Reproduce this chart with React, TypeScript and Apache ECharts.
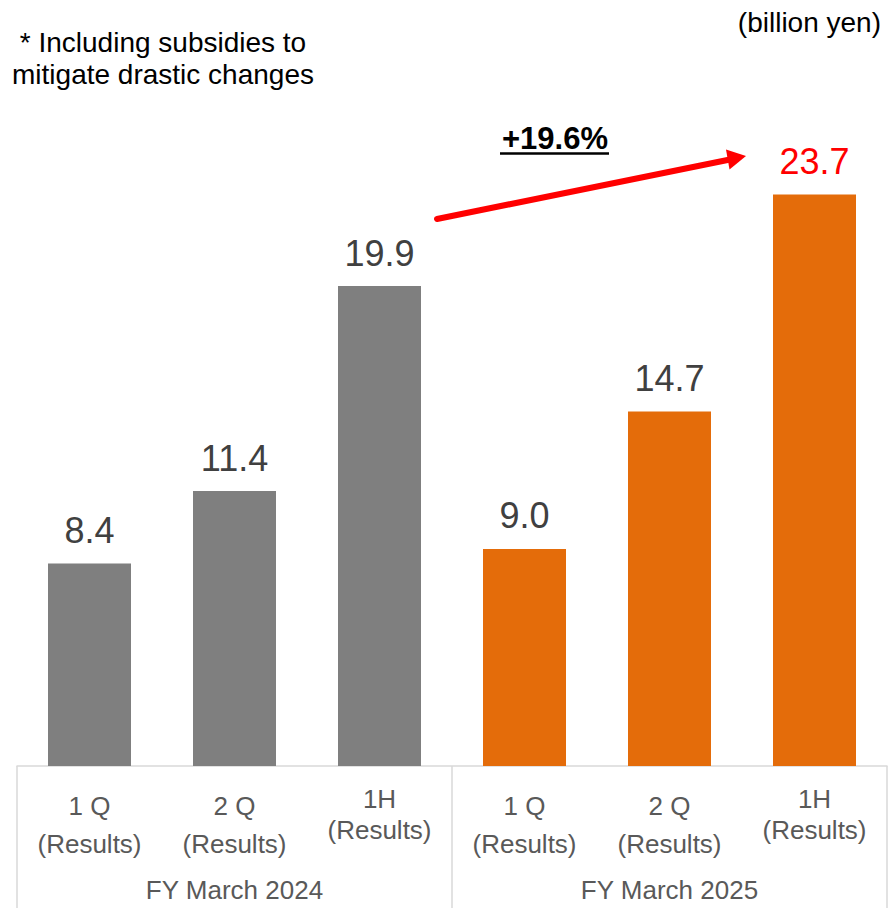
import React, { useEffect, useRef } from "react";
import * as echarts from "echarts";

const categories = ["1 Q|(Results)", "2 Q|(Results)", "1H|(Results)", "1 Q|(Results)", "2 Q|(Results)", "1H|(Results)"];
const periods = ["FY March 2024", "FY March 2025"];
const values = [8.4, 11.4, 19.9, 9.0, 14.7, 23.7];
const periodOfBar = [0, 0, 0, 1, 1, 1];
const periodColors = ["#7f7f7f", "#e46c0a"];
const highlightIndex = 5;
const growthLabel = "+19.6%";
const noteLines = ["* Including subsidies to", "mitigate drastic changes"];
const unitLabel = "(billion yen)";

const FONT = "'Liberation Sans', Arial, sans-serif";

export default function App() {
  const ref = useRef<HTMLDivElement>(null);
  useEffect(() => {
    if (!ref.current) return;
    const chart = echarts.init(ref.current, null, { renderer: "svg" });
    const data = values.map((v, i) => ({
      value: v,
      itemStyle: { color: periodColors[periodOfBar[i]] },
      label: i === highlightIndex ? { color: "#ff0000" } : undefined,
    }));
    chart.setOption({
      animation: false,
      textStyle: { fontFamily: FONT },
      grid: { left: 17, right: 8, top: 42.5, bottom: 142, containLabel: false, outerBoundsMode: "none" },
      xAxis: [
        {
          type: "category",
          position: "bottom",
          data: categories,
          axisLine: { show: false },
          axisTick: { show: false },
          axisLabel: {
            interval: 0,
            margin: 20,
            color: "#595959",
            fontFamily: FONT,
            fontSize: 26,
            formatter: (val: string) => {
              const [a, b] = val.split("|");
              if (a.indexOf("H") >= 0) return `{h1|${a}}\n{h2|${b}}`;
              return `{q1|${a}}\n{q2|${b}}`;
            },
            rich: {
              q1: { fontSize: 26, lineHeight: 40, color: "#595959", fontFamily: FONT },
              q2: { fontSize: 26, lineHeight: 36, color: "#595959", fontFamily: FONT },
              h1: { fontSize: 26, lineHeight: 26, color: "#595959", fontFamily: FONT },
              h2: { fontSize: 26, lineHeight: 36, color: "#595959", fontFamily: FONT },
            },
          },
        },
        {
          type: "category",
          position: "bottom",
          offset: 0,
          data: periods,
          axisLine: { show: true, lineStyle: { color: "#d9d9d9", width: 1.5 } },
          axisTick: { show: true, length: 142, lineStyle: { color: "#d9d9d9", width: 1.5 } },
          axisLabel: { interval: 0, margin: 111, color: "#595959", fontSize: 26, lineHeight: 26, fontFamily: FONT },
        },
      ],
      yAxis: { type: "value", min: 0, max: 30, show: false, splitLine: { show: false } },
      series: [
        {
          type: "bar",
          xAxisIndex: 0,
          barWidth: 83,
          data,
          label: {
            show: true,
            position: "top",
            distance: 15,
            fontSize: 36,
            color: "#404040",
            fontFamily: FONT,
            formatter: (p: any) => Number(p.value).toFixed(1),
          },
        },
      ],
      graphic: [
        {
          type: "text",
          x: 163,
          y: 42,
          style: { text: noteLines[0], font: `28px ${FONT}`, fill: "#000", align: "center", verticalAlign: "middle" },
        },
        {
          type: "text",
          x: 163,
          y: 74,
          style: { text: noteLines[1], font: `28px ${FONT}`, fill: "#000", align: "center", verticalAlign: "middle" },
        },
        {
          type: "text",
          x: 881,
          y: 22,
          style: { text: unitLabel, font: `28px ${FONT}`, fill: "#000", align: "right", verticalAlign: "middle" },
        },
        {
          type: "text",
          x: 555,
          y: 138,
          style: { text: growthLabel, font: `bold 31px ${FONT}`, fill: "#000", align: "center", verticalAlign: "middle" },
        },
        {
          type: "line",
          shape: { x1: 500, y1: 153.5, x2: 609, y2: 153.5 },
          style: { stroke: "#000", lineWidth: 2.5 },
        },
        {
          type: "line",
          shape: { x1: 437, y1: 219, x2: 730, y2: 159.5 },
          style: { stroke: "#ff0000", lineWidth: 6, lineCap: "round" },
        },
        {
          type: "polygon",
          shape: { points: [[746, 156], [726, 149.5], [729.5, 169.5]] },
          style: { fill: "#ff0000" },
        },
      ],
    });
    return () => chart.dispose();
  }, []);
  return <div ref={ref} style={{ position: "absolute", left: 0, top: 0, width: 895, height: 908 }} />;
}
